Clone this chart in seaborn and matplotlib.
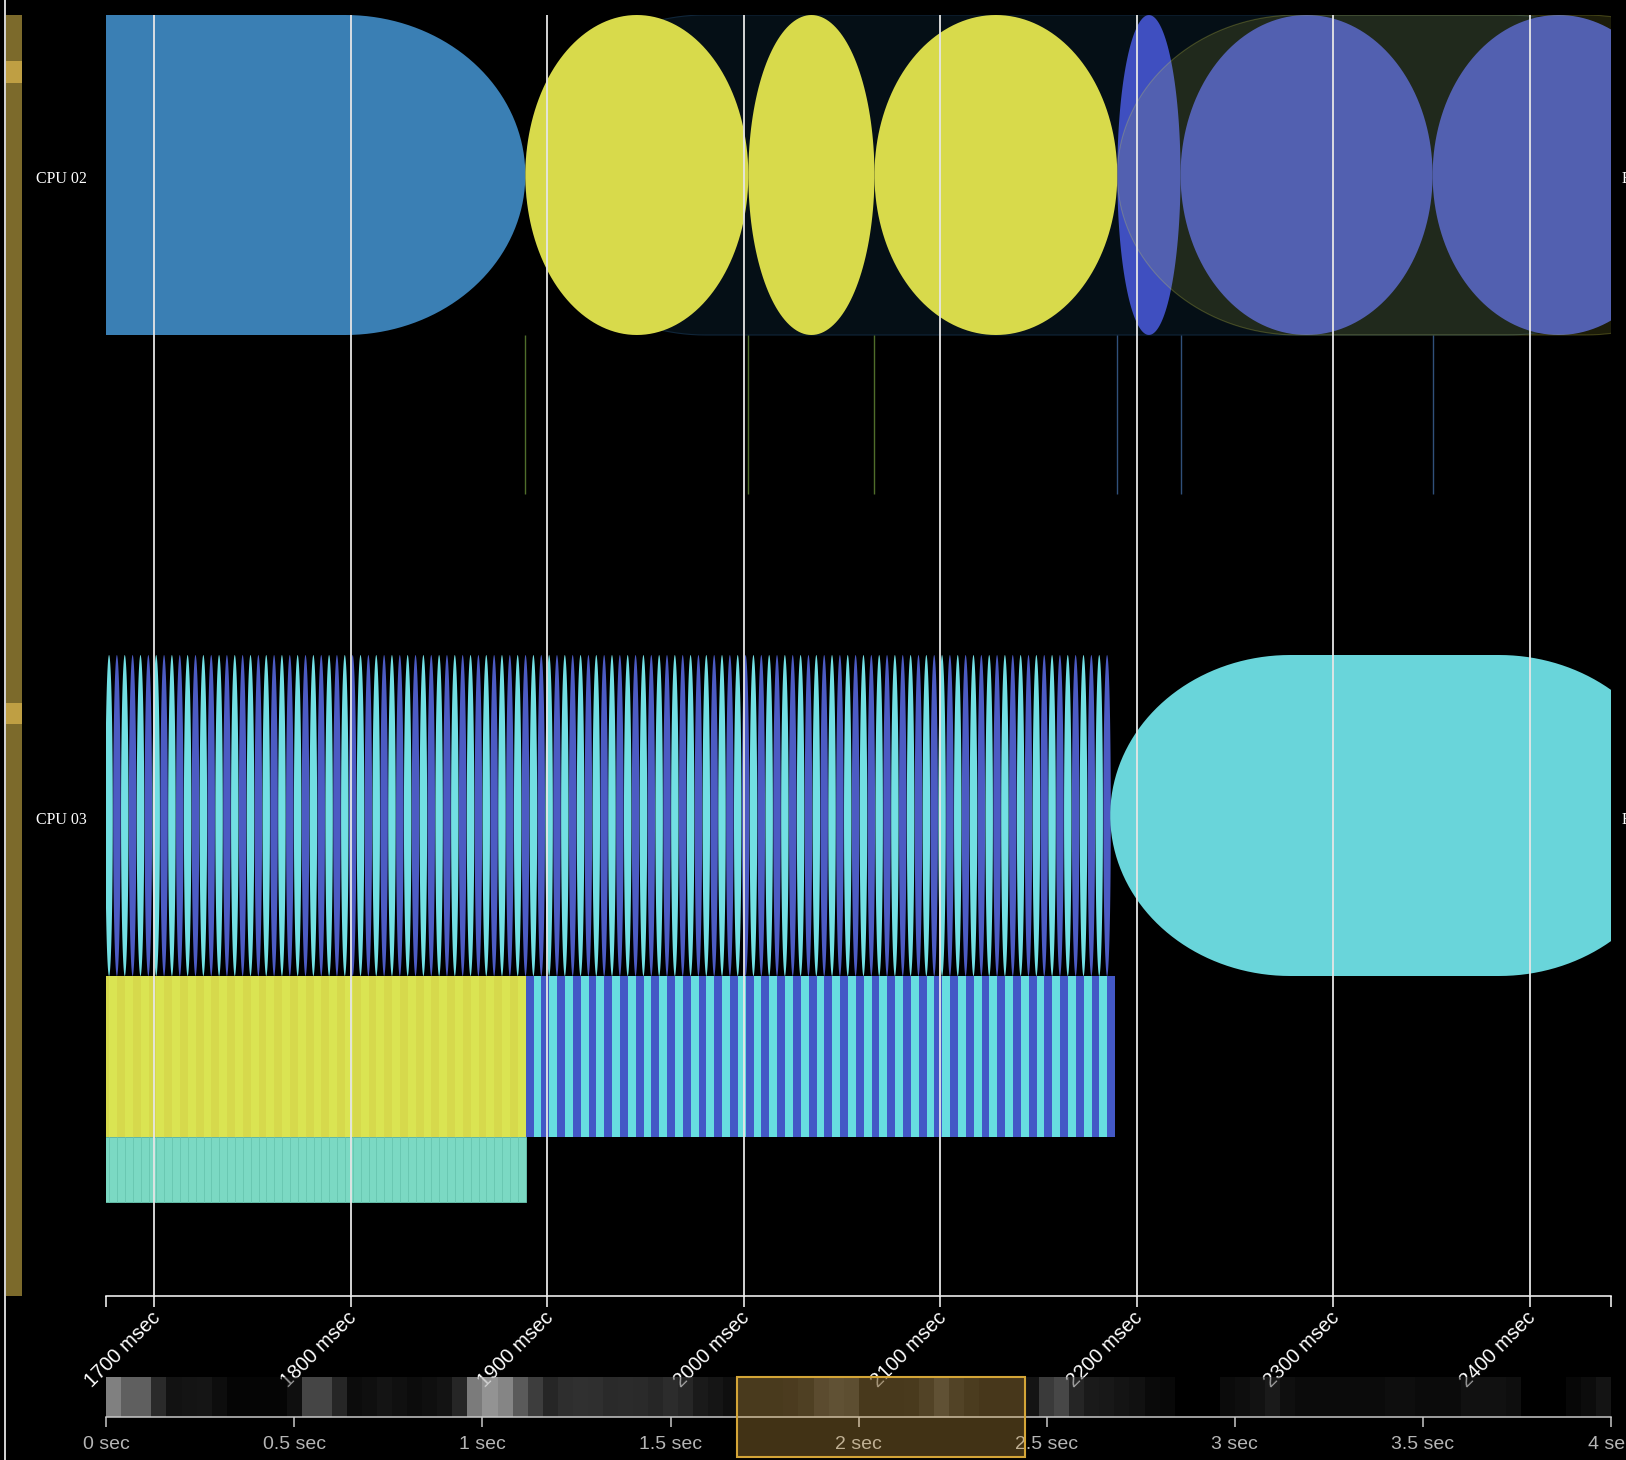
import numpy as np
import matplotlib
matplotlib.use("Agg")
import matplotlib.pyplot as plt
from matplotlib.patches import Rectangle, Polygon
from matplotlib.transforms import blended_transform_factory, ScaledTranslation
import seaborn as sns

W, H = 1626, 1460

# visible window of the zoomed timeline (ms)
VIEW_MS = (1675.5, 2441.4)
tick_ms = [1700, 1800, 1900, 2000, 2100, 2200, 2300, 2400]
tick_labels = ["1700 msec", "1800 msec", "1900 msec", "2000 msec",
               "2100 msec", "2200 msec", "2300 msec", "2400 msec"]

# CPU 02 slices, (start ms, end ms)
cpu02_blue = [(1560.0, 1888.8)]
cpu02_yellow = [(1888.8, 2002.3), (2002.3, 2066.5), (2066.5, 2190.1)]
cpu02_indigo = [(2190.1, 2222.3), (2222.3, 2350.6), (2350.6, 2478.9)]
cpu02_idle = (1888.8, 2480.0)
cpu02_haze = (2190.1, 2520.0)
cpu02_marks_green = [1888.8, 2002.3, 2066.5]
cpu02_marks_blue = [2190.1, 2222.3, 2350.6]

# CPU 03, top level: short alternating slices then one long one
cpu03_cyan_start = [1675, 1683, 1691, 1699, 1707, 1715, 1723, 1731, 1739, 1747,
                    1755, 1763, 1771, 1779, 1787, 1795, 1803, 1811, 1819, 1827,
                    1835, 1843, 1851, 1859, 1867, 1875, 1883, 1891, 1899, 1907,
                    1915, 1923, 1931, 1939, 1947, 1955, 1963, 1971, 1979, 1987,
                    1995, 2003, 2011, 2019, 2027, 2035, 2043, 2051, 2059, 2067,
                    2075, 2083, 2091, 2099, 2107, 2115, 2123, 2131, 2139, 2147,
                    2155, 2163, 2171, 2179]
cpu03_blue_start = [1671, 1679, 1687, 1695, 1703, 1711, 1719, 1727, 1735, 1743,
                    1751, 1759, 1767, 1775, 1783, 1791, 1799, 1807, 1815, 1823,
                    1831, 1839, 1847, 1855, 1863, 1871, 1879, 1887, 1895, 1903,
                    1911, 1919, 1927, 1935, 1943, 1951, 1959, 1967, 1975, 1983,
                    1991, 1999, 2007, 2015, 2023, 2031, 2039, 2047, 2055, 2063,
                    2071, 2079, 2087, 2095, 2103, 2111, 2119, 2127, 2135, 2143,
                    2151, 2159, 2167, 2175, 2183]
cpu03_slice_ms = 3.8
cpu03_tail = (2186.5, 2476.0)

# CPU 03, depth 1
cpu03_yel_a = [1673, 1681, 1689, 1697, 1705, 1713, 1721, 1729, 1737, 1745,
               1753, 1761, 1769, 1777, 1785, 1793, 1801, 1809, 1817, 1825,
               1833, 1841, 1849, 1857, 1865, 1873, 1881]
cpu03_yel_b = [1677, 1685, 1693, 1701, 1709, 1717, 1725, 1733, 1741, 1749,
               1757, 1765, 1773, 1781, 1789, 1797, 1805, 1813, 1821, 1829,
               1837, 1845, 1853, 1861, 1869, 1877, 1885]
cpu03_bar_blue = [1889, 1897, 1905, 1913, 1921, 1929, 1937, 1945, 1953, 1961,
                  1969, 1977, 1985, 1993, 2001, 2009, 2017, 2025, 2033, 2041,
                  2049, 2057, 2065, 2073, 2081, 2089, 2097, 2105, 2113, 2121,
                  2129, 2137, 2145, 2153, 2161, 2169, 2177, 2185]
cpu03_bar_cyan = [1893, 1901, 1909, 1917, 1925, 1933, 1941, 1949, 1957, 1965,
                  1973, 1981, 1989, 1997, 2005, 2013, 2021, 2029, 2037, 2045,
                  2053, 2061, 2069, 2077, 2085, 2093, 2101, 2109, 2117, 2125,
                  2133, 2141, 2149, 2157, 2165, 2173, 2181]
bar_ms = 4

# overview strip: activity per 40 ms cell over 0-4 s (grey level)
minimap_level = [128, 95, 95, 42, 18, 20, 21, 13, 5, 5,
                 5, 5, 15, 69, 69, 38, 12, 15, 20, 16,
                 12, 15, 19, 38, 123, 147, 133, 90, 61, 38,
                 46, 48, 47, 42, 43, 42, 38, 44, 38, 26,
                 21, 15, 12, 12, 12, 14, 20, 37, 45, 40,
                 10, 10, 10, 12, 25, 45, 25, 15, 8, 8,
                 8, 20, 58, 71, 37, 26, 24, 20, 17, 10,
                 8, 0, 0, 0, 11, 14, 18, 26, 15, 11,
                 11, 11, 11, 11, 11, 14, 14, 11, 11, 11,
                 17, 17, 17, 14, 0, 0, 0, 7, 12, 20]
minimap_ticks = ["0 sec", "0.5 sec", "1 sec", "1.5 sec", "2 sec",
                 "2.5 sec", "3 sec", "3.5 sec", "4 sec"]

sns.set_theme(style="dark", rc={"figure.facecolor": "black",
                                "axes.facecolor": "black",
                                "savefig.facecolor": "black"})
plt.rcParams['font.family'] = ['Liberation Sans', 'DejaVu Sans']


def fx(px):
    return px / W


def fy(py):
    return 1 - py / H


def capsule(ax, t0, t1, y0, y1, rx=91.6, **kw):
    # rounded slice: straight body with elliptical ends, plain ellipse if short
    r = min(rx, (t1 - t0) / 2)
    cy, ry = (y0 + y1) / 2, (y1 - y0) / 2
    th = np.linspace(np.pi / 2, 3 * np.pi / 2, 80)
    left = np.column_stack([t0 + r + r * np.cos(th), cy - ry * np.sin(th)])
    th = np.linspace(-np.pi / 2, np.pi / 2, 80)
    right = np.column_stack([t1 - r + r * np.cos(th), cy - ry * np.sin(th)])
    p = Polygon(np.vstack([left, right]), closed=True, **kw)
    ax.add_patch(p)
    return p


fig = plt.figure(figsize=(W / 100, H / 100), dpi=100)

# left gutter
fig.add_artist(Rectangle((fx(3.5), 0), fx(2), 1, transform=fig.transFigure,
                         color="#cfcfcf", lw=0))
fig.add_artist(Rectangle((fx(6), fy(1296)), fx(16), (1296 - 15) / H,
                         transform=fig.transFigure, color="#7c6a2b", lw=0))
for top, bot in [(61, 83), (703, 724)]:
    fig.add_artist(Rectangle((fx(6), fy(bot)), fx(16), (bot - top) / H,
                             transform=fig.transFigure, color="#bf9f43", lw=0))

ax = fig.add_axes([fx(106.3), fy(1296), (1611 - 106.3) / W, (1296 - 15) / H])
ax.set_xlim(*VIEW_MS)
ax.set_ylim(1296, 15)

# rows (pixel rows inside the track area)
R2 = (15, 335, 494)
R3 = (655, 976, 1136.5, 1202)

# CPU 02
capsule(ax, *cpu02_idle, R2[0], R2[1], facecolor="#050f16",
        edgecolor="#10263a", lw=0.8, zorder=1.0)
for s, e in cpu02_blue:
    capsule(ax, s, e, R2[0], R2[1], facecolor="#3a7fb4", lw=0, zorder=1.2)
for s, e in cpu02_yellow:
    capsule(ax, s, e, R2[0], R2[1], facecolor="#d8da4b", lw=0, zorder=1.2)
for s, e in cpu02_indigo:
    capsule(ax, s, e, R2[0], R2[1], facecolor="#3f4fc0", lw=0, zorder=1.2)
capsule(ax, *cpu02_haze, R2[0], R2[1], facecolor=(0.85, 0.85, 0.29, 0.13),
        edgecolor=(0.85, 0.85, 0.29, 0.25), lw=0.8, zorder=1.4)
ax.vlines(cpu02_marks_green, R2[1], R2[2], colors="#4f6d2a", lw=1, zorder=1.3)
ax.vlines(cpu02_marks_blue, R2[1], R2[2], colors="#30507a", lw=1, zorder=1.3)

# CPU 03 depth 0
for s in cpu03_blue_start:
    capsule(ax, s, s + cpu03_slice_ms, R3[0], R3[1], facecolor="#4c5bc3",
            lw=0, zorder=1.2)
for s in cpu03_cyan_start:
    capsule(ax, s, s + cpu03_slice_ms, R3[0], R3[1], facecolor="#72dfe3",
            lw=0, zorder=1.25)
capsule(ax, *cpu03_tail, R3[0], R3[1], facecolor="#69d5da", lw=0, zorder=1.2)

# CPU 03 depth 1
h1 = R3[2] - R3[1]
ax.bar(cpu03_yel_a, h1, width=bar_ms, bottom=R3[1], align="edge",
       color="#d6d94c", lw=0, zorder=1.2)
ax.bar(cpu03_yel_b, h1, width=bar_ms, bottom=R3[1], align="edge",
       color="#dae452", lw=0, zorder=1.2)
ax.bar(cpu03_bar_blue, h1, width=bar_ms, bottom=R3[1], align="edge",
       color="#4358c6", lw=0, zorder=1.2)
ax.bar(cpu03_bar_cyan, h1, width=bar_ms, bottom=R3[1], align="edge",
       color="#67dde0", lw=0, zorder=1.2)

# CPU 03 depth 2
h2 = R3[3] - R3[2]
ax.bar(cpu03_yel_a + cpu03_yel_b, h2, width=bar_ms, bottom=R3[2], align="edge",
       color="#7bd9c3", edgecolor="#6ac8b2", lw=0.6, zorder=1.2)

# axis + grid
ax.set_xticks(tick_ms)
ax.set_xticklabels([])
ax.set_xticks(list(VIEW_MS), minor=True)
ax.set_yticks([])
ax.tick_params(axis="x", which="both", bottom=True, direction="out",
               length=8, width=1.1, color="white")
ax.grid(axis="x", which="major", color="#e6e6e6", lw=1.3)
ax.grid(axis="y", visible=False)
ax.set_axisbelow(False)
for side in ["top", "left", "right"]:
    ax.spines[side].set_visible(False)
ax.spines["bottom"].set_color("white")
ax.spines["bottom"].set_linewidth(1.1)

lab_tr = blended_transform_factory(ax.transData, ax.transAxes) + \
    ScaledTranslation(0.03, -0.19, fig.dpi_scale_trans)
for t, lab in zip(tick_ms, tick_labels):
    ax.text(t, 0, lab, transform=lab_tr, rotation=45, rotation_mode="anchor",
            ha="right", va="center", color="white", fontsize=14.4)

serif = ["Liberation Serif", "DejaVu Serif"]
for lab, y in [("CPU 02", 179), ("CPU 03", 820)]:
    fig.text(fx(36), fy(y), lab, family=serif, fontsize=11.5, color="white",
             va="center", ha="left")
    fig.text(fx(1622), fy(y), "E", family=serif, fontsize=11.5, color="white",
             va="center", ha="left")

# overview strip
hm = fig.add_axes([fx(106.3), fy(1417), (1611 - 106.3) / W, 40 / H])
sns.heatmap(np.array([minimap_level]), ax=hm, cmap="gray", vmin=0, vmax=255,
            cbar=False, xticklabels=False, yticklabels=False)
hm.set_xticks(np.linspace(0, len(minimap_level), len(minimap_ticks)))
hm.set_xticklabels(minimap_ticks)
hm.set_yticks([])
hm.tick_params(axis="x", bottom=True, direction="out", length=7.2, width=1.1,
               color="#c8c8c8", labelcolor="#b5b5b5", labelsize=14, pad=6.2)
hm.spines["bottom"].set_visible(True)
hm.spines["bottom"].set_color("#c8c8c8")
hm.spines["bottom"].set_linewidth(1.1)

# tick labels show faintly through the overview strip
for t, lab in zip(tick_ms, tick_labels):
    hm.text(t, 0, lab, transform=lab_tr, rotation=45, rotation_mode="anchor",
            ha="right", va="center", color="white", alpha=0.55, fontsize=14.4,
            clip_on=True, zorder=3)

cell_ms = 4000 / len(minimap_level)
sel = Rectangle((VIEW_MS[0] / cell_ms, -1.0), (VIEW_MS[1] - VIEW_MS[0]) / cell_ms, 2.0,
                transform=blended_transform_factory(hm.transData, hm.transAxes),
                facecolor=(0.85, 0.65, 0.28, 0.3), edgecolor="#d4a537", lw=1.5,
                clip_on=False, zorder=5)
hm.add_patch(sel)

fig.savefig("out.png", dpi=100, facecolor="black")
